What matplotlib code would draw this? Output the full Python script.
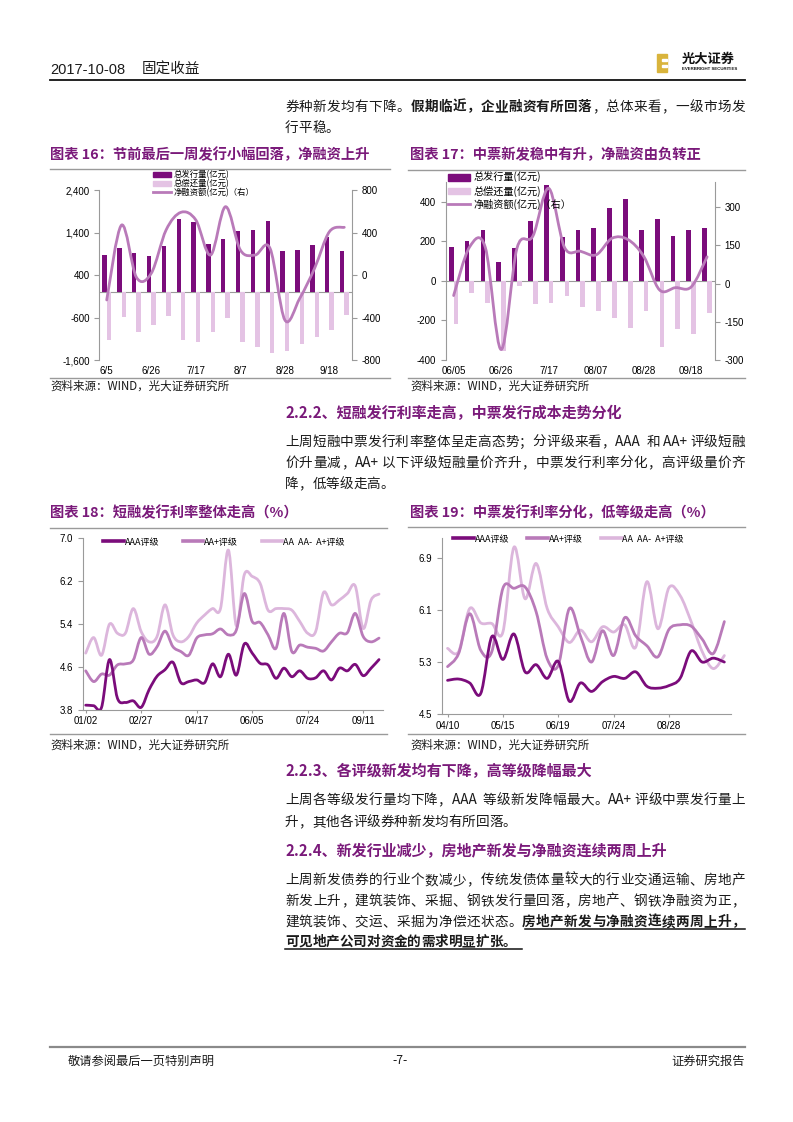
import numpy as np
import matplotlib.pyplot as plt
from matplotlib.path import Path
from matplotlib.patches import PathPatch, Patch, Rectangle
from matplotlib.lines import Line2D

W, H = 793, 1122
plt.rcParams['font.family'] = ['Noto Sans CJK SC', 'DejaVu Sans']
plt.rcParams['axes.unicode_minus'] = False

DARK = '#7b0c7b'
MID = '#b97ab9'
LIGHT = '#e4c3e4'
PALE = '#dcb6dc'
PURPLE = '#7a1a7a'
GRAY = '#9a9a9a'
TXT = '#1a1a1a'
NUM = ['Liberation Sans', 'DejaVu Sans']

# ---- chart 16: weekly issuance / repayment / net (亿元) ----
weeks_a = ['6/5', '6/12', '6/19', '6/26', '7/3', '7/10', '7/17', '7/24', '7/31',
           '8/7', '8/14', '8/21', '8/28', '9/4', '9/11', '9/18', '9/25']
issue_16 = [880, 1040, 920, 850, 1090, 1710, 1650, 1130, 1240, 1430, 1470, 1670, 970, 985, 1110, 1285, 970]
repay_16 = [-1140, -590, -950, -780, -570, -1140, -1180, -950, -605, -1180, -1300, -1425, -1395, -1230, -1065, -905, -530]
net_16 = [-235, 470, -22, 16, 424, 590, 518, 188, 643, 235, 188, 251, -424, -220, 63, 408, 449]

# ---- chart 17: MTN issuance / repayment / net ----
weeks_b = ['06/05', '06/12', '06/19', '06/26', '07/03', '07/10', '7/17', '07/24', '07/31',
           '08/07', '08/14', '08/21', '08/28', '09/04', '09/11', '09/18', '09/25']
issue_17 = [171, 203, 256, 94, 166, 303, 484, 221, 258, 264, 367, 412, 258, 310, 228, 258, 266]
repay_17 = [-218, -60, -114, -353, -27, -117, -110, -79, -131, -151, -189, -239, -151, -335, -244, -271, -161]
net_17 = [-47, 143, 142, -259, 139, 186, 374, 142, 127, 113, 178, 173, 107, -25, -16, -13, 105]

# ---- chart 18: short-term financing rates (%) ----
ticks_18 = {0: '01/02', 7: '02/27', 14: '04/17', 21: '06/05', 28: '07/24', 35: '09/11'}
aaa_18 = [3.89, 3.88, 3.85, 4.74, 4.02, 3.94, 3.97, 3.85, 4.18, 4.43, 4.55, 4.69, 4.31, 4.33,
          4.36, 4.31, 4.66, 4.42, 4.84, 4.45, 5.03, 4.86, 4.67, 4.64, 4.39, 4.58, 4.42, 4.53,
          4.39, 4.40, 4.53, 4.36, 4.58, 4.53, 4.65, 4.44, 4.58, 4.74]
aap_18 = [4.53, 4.33, 4.47, 4.45, 4.64, 4.66, 4.73, 5.15, 4.84, 4.98, 5.27, 4.98, 4.89, 4.82,
          5.14, 5.20, 5.22, 5.31, 5.20, 5.29, 5.97, 5.45, 5.43, 5.20, 4.95, 5.60, 4.89, 5.01,
          4.97, 4.95, 4.90, 5.07, 5.23, 5.24, 5.60, 5.17, 5.07, 5.14]
low_18 = [4.86, 5.15, 4.82, 5.40, 5.23, 5.23, 5.69, 5.26, 5.07, 5.17, 5.76, 5.20, 5.07, 5.17,
          5.42, 5.57, 5.69, 5.69, 6.78, 5.37, 6.32, 6.29, 6.16, 5.66, 5.69, 5.69, 5.66, 5.45,
          5.23, 5.26, 5.99, 5.76, 5.85, 5.97, 6.11, 5.32, 5.85, 5.96]

# ---- chart 19: MTN rates (%) ----
ticks_19 = {0: '04/10', 5: '05/15', 10: '06/19', 15: '07/24', 20: '08/28'}
aaa_19 = [5.02, 5.04, 4.98, 4.82, 5.69, 5.34, 5.73, 5.15, 5.26, 5.05, 5.31, 4.70, 4.98,
          4.85, 5.00, 5.08, 5.05, 5.15, 4.93, 4.90, 4.94, 5.05, 5.47, 5.30, 5.36, 5.30]
aap_19 = [5.23, 5.43, 6.04, 5.48, 5.46, 6.43, 6.43, 6.45, 6.07, 5.35, 5.25, 6.12, 5.70,
          5.30, 5.78, 5.40, 5.98, 5.70, 5.55, 5.38, 5.80, 5.87, 5.85, 5.65, 5.43, 5.92]
low_19 = [5.51, 5.46, 6.12, 5.90, 5.89, 5.76, 7.06, 6.27, 6.81, 6.12, 5.84, 5.60, 5.79,
          5.61, 5.84, 5.76, 5.87, 5.53, 6.53, 5.81, 6.44, 6.32, 5.92, 5.46, 5.20, 5.40]

legend_bars = ['总发行量(亿元)', '总偿还量(亿元)', '净融资额(亿元)（右）']
legend_rates = ['AAA评级', 'AA+评级', 'AA  AA-  A+评级']

fig = plt.figure(figsize=(W / 100, H / 100), dpi=100)


def px_axes(x0, y0, x1, y1):
    return fig.add_axes([x0 / W, 1 - y1 / H, (x1 - x0) / W, (y1 - y0) / H])


def hline(x0, x1, y, color=GRAY, lw=1.0):
    fig.add_artist(Line2D([x0 / W, x1 / W], [1 - y / H, 1 - y / H], color=color, lw=lw))


def smooth(ax, xs, ys, color, lw=2.0):
    # excel-style smoothed line drawn as bezier segments through the points
    xs = np.asarray(xs, float)
    ys = np.asarray(ys, float)
    verts = [(xs[0], ys[0])]
    codes = [Path.MOVETO]
    n = len(xs)
    for i in range(n - 1):
        p0 = i - 1 if i > 0 else i
        p3 = i + 2 if i + 2 < n else i + 1
        c1 = (xs[i] + (xs[i + 1] - xs[p0]) / 6, ys[i] + (ys[i + 1] - ys[p0]) / 6)
        c2 = (xs[i + 1] - (xs[p3] - xs[i]) / 6, ys[i + 1] - (ys[p3] - ys[i]) / 6)
        verts += [c1, c2, (xs[i + 1], ys[i + 1])]
        codes += [Path.CURVE4] * 3
    ax.add_patch(PathPatch(Path(verts, codes), fill=False, edgecolor=color, lw=lw,
                           capstyle='round', joinstyle='round'))


def em_w(ch):
    if ord(ch) > 0x2000:
        return 1.0
    if ch == ' ':
        return 0.25
    if ch in '.,':
        return 0.28
    if ch.isupper():
        return 0.68
    return 0.56


def text_line(x0, y, segs, size, x1=None, color=TXT):
    tokens = []
    for s, wgt in segs:
        buf = ''
        for ch in s:
            if ord(ch) < 0x2000:
                buf += ch
            else:
                if buf:
                    tokens.append((buf, wgt))
                    buf = ''
                tokens.append((ch, wgt))
        if buf:
            tokens.append((buf, wgt))
    em = size * 100 / 72
    widths = [sum(em_w(c) for c in t) * em for t, _ in tokens]
    gap = 0
    if x1 is not None and len(tokens) > 1:
        gap = (x1 - x0 - sum(widths)) / (len(tokens) - 1)
    x = x0
    for (t, wgt), w in zip(tokens, widths):
        fig.text(x / W, 1 - y / H, t, fontsize=size, fontweight=wgt, color=color,
                 va='center', ha='left')
        x += w + gap


def ftext(x, y, s, size, **kw):
    fig.text(x / W, 1 - y / H, s, fontsize=size, va='center', **kw)


def num_font(ax):
    for lab in ax.get_xticklabels() + ax.get_yticklabels():
        lab.set_fontfamily(NUM)


# ---------------- page header ----------------
ftext(50, 70, '2017-10-08', 10.5, color=TXT, family=NUM)
ftext(142, 70, '固定收益', 10.5, color=TXT)
hline(50, 745, 79.5, color='#111111', lw=1.3)
fig.add_artist(Rectangle((657 / W, 1 - 72 / H), 10 / W, 18 / H, color='#d9b43c',
                         transform=fig.transFigure))
for yy in (59, 65):
    fig.add_artist(Rectangle((662 / W, 1 - (yy + 2) / H), 5 / W, 2 / H, color='white',
                             transform=fig.transFigure))
ftext(682, 59, '光大证券', 9.5, color='#111111', fontweight='bold')
ftext(682, 69.5, 'EVERBRIGHT SECURITIES', 3.2, color='#111111', fontweight='bold', family=NUM)

text_line(285, 107, [('券种新发均有下降。', 'normal'), ('假期临近，企业融资有所回落', 'bold'),
                     ('，总体来看，一级市场发', 'normal')], 9.8, x1=745)
text_line(285, 128, [('行平稳。', 'normal')], 9.8)

# ---------------- chart titles / rules / sources ----------------
ftext(50, 155, '图表 16：节前最后一周发行小幅回落，净融资上升', 10.3, color=PURPLE, fontweight='bold')
ftext(410, 155, '图表 17：中票新发稳中有升，净融资由负转正', 10.3, color=PURPLE, fontweight='bold')
hline(50, 390, 169)
hline(408, 745, 169.5)
hline(50, 390, 377.5)
hline(408, 745, 377.5)
ftext(50, 386, '资料来源：WIND，光大证券研究所', 8.3, color=TXT)
ftext(410, 386, '资料来源：WIND，光大证券研究所', 8.3, color=TXT)

ftext(50, 513, '图表 18：短融发行利率整体走高（%）', 10.3, color=PURPLE, fontweight='bold')
ftext(410, 513, '图表 19：中票发行利率分化，低等级走高（%）', 10.3, color=PURPLE, fontweight='bold')
hline(50, 387, 527.5)
hline(408, 745, 527)
hline(50, 387, 733.5)
hline(408, 745, 733.5)
ftext(50, 745, '资料来源：WIND，光大证券研究所', 8.3, color=TXT)
ftext(410, 745, '资料来源：WIND，光大证券研究所', 8.3, color=TXT)

# ---------------- section text ----------------
ftext(285, 413, '2.2.2、短融发行利率走高，中票发行成本走势分化', 10.8, color=PURPLE, fontweight='bold')
text_line(285, 442, [('上周短融中票发行利率整体呈走高态势；分评级来看，AAA 和 AA+评级短融', 'normal')], 9.8, x1=745)
text_line(285, 463, [('价升量减，AA+以下评级短融量价齐升，中票发行利率分化，高评级量价齐', 'normal')], 9.8, x1=745)
text_line(285, 484, [('降，低等级走高。', 'normal')], 9.8)

ftext(285, 771, '2.2.3、各评级新发均有下降，高等级降幅最大', 10.8, color=PURPLE, fontweight='bold')
text_line(285, 800, [('上周各等级发行量均下降，AAA 等级新发降幅最大。AA+评级中票发行量上', 'normal')], 9.8, x1=745)
text_line(285, 822, [('升，其他各评级券种新发均有所回落。', 'normal')], 9.8)

ftext(285, 851, '2.2.4、新发行业减少，房地产新发与净融资连续两周上升', 10.8, color=PURPLE, fontweight='bold')
text_line(285, 880, [('上周新发债券的行业个数减少，传统发债体量较大的行业交通运输、房地产', 'normal')], 9.8, x1=745)
text_line(285, 901, [('新发上升，建筑装饰、采掘、钢铁发行量回落，房地产、钢铁净融资为正，', 'normal')], 9.8, x1=745)
text_line(285, 922, [('建筑装饰、交运、采掘为净偿还状态。', 'normal'),
                     ('房地产新发与净融资连续两周上升，', 'bold')], 9.8, x1=745)
text_line(285, 942, [('可见地产公司对资金的需求明显扩张。', 'bold')], 9.8)
hline(525, 745, 928.5, color='#111111', lw=1.1)
hline(285, 522, 949, color='#111111', lw=1.1)

# ---------------- footer ----------------
hline(50, 745, 1046.5, color='#8a8a8a', lw=1.6)
ftext(68, 1061, '敬请参阅最后一页特别声明', 8.8, color=TXT)
ftext(400, 1061, '-7-', 8.8, color=TXT, ha='center')
ftext(745, 1061, '证券研究报告', 8.8, color=TXT, ha='right')


# ---------------- bar + net charts ----------------
def bar_chart(box, issue, repay, net, labels, ylim, yt, ytl, ylim2, yt2, ytl2, leg_xy, leg_size, leg_sp):
    ax = px_axes(*box)
    x = np.arange(len(issue))
    ax.bar(x - 0.15, issue, 0.3, color=DARK, zorder=2)
    ax.bar(x + 0.15, repay, 0.3, color=LIGHT, zorder=2)
    ax.axhline(0, color=GRAY, lw=0.8, zorder=1)
    ax.set_xlim(-0.5, len(issue) - 0.5)
    ax.set_ylim(*ylim)
    ax.set_yticks(yt)
    ax.set_yticklabels(ytl)
    ax.set_xticks(x[::3])
    ax.set_xticklabels(labels[::3])
    for s in ('top', 'bottom', 'right'):
        ax.spines[s].set_visible(False)
    ax.spines['left'].set_color(GRAY)
    ax.tick_params(axis='y', direction='out', length=3.5, color=GRAY, width=0.8, pad=3.5, labelsize=7)
    ax.tick_params(axis='x', length=0, pad=4.5, labelsize=7)
    num_font(ax)
    ax2 = ax.twinx()
    ax2.set_ylim(*ylim2)
    ax2.set_yticks(yt2)
    ax2.set_yticklabels(ytl2)
    smooth(ax2, x, net, MID, lw=2.0)
    for s in ('top', 'bottom', 'left'):
        ax2.spines[s].set_visible(False)
    ax2.spines['right'].set_color(GRAY)
    ax2.tick_params(axis='y', direction='out', length=3.5, color=GRAY, width=0.8, pad=3.5, labelsize=7)
    num_font(ax2)
    handles = [Patch(color=DARK), Patch(color=LIGHT), Line2D([], [], color=MID, lw=2)]
    ax2.legend(handles, legend_bars, loc='center left',
               bbox_to_anchor=(leg_xy[0] / W, 1 - leg_xy[1] / H), bbox_transform=fig.transFigure,
               frameon=False, fontsize=leg_size, labelspacing=leg_sp, handlelength=2.2,
               handleheight=0.6, handletextpad=0.3, borderpad=0, borderaxespad=0)
    return ax


bar_chart((99.3, 190, 351.7, 360), issue_16, repay_16, net_16, weeks_a,
          (-1600, 2400), [-1600, -600, 400, 1400, 2400], ['-1,600', '-600', '400', '1,400', '2,400'],
          (-800, 800), [-800, -400, 0, 400, 800], ['-800', '-400', '0', '400', '800'],
          (153, 183.5), 6.0, -0.05)

bar_chart((445.7, 181.7, 715, 360), issue_17, repay_17, net_17, weeks_b,
          (-400, 500), [-400, -200, 0, 200, 400], ['-400', '-200', '0', '200', '400'],
          (-300, 400), [-300, -150, 0, 150, 300], ['-300', '-150', '0', '150', '300'],
          (448, 191), 7.3, 0.2)


# ---------------- rate charts ----------------
def rate_chart(box, series, ticks, ylim, yt, ytl, xlim, leg_xy, colsp):
    ax = px_axes(*box)
    x = np.arange(len(series[0]))
    cols = [DARK, MID, PALE]
    for ys, c in list(zip(series, cols))[::-1]:
        smooth(ax, x, ys, c, lw=2.0)
    ax.set_xlim(*xlim)
    ax.set_ylim(*ylim)
    ax.set_yticks(yt)
    ax.set_yticklabels(ytl)
    ax.set_xticks(list(ticks.keys()))
    ax.set_xticklabels(list(ticks.values()))
    for s in ('top', 'right'):
        ax.spines[s].set_visible(False)
    for s in ('left', 'bottom'):
        ax.spines[s].set_color(GRAY)
        ax.spines[s].set_linewidth(0.8)
    ax.tick_params(axis='y', direction='out', length=3.5, color=GRAY, width=0.8, pad=3.5, labelsize=7)
    ax.tick_params(axis='x', direction='out', length=2.5, color=GRAY, width=0.8, pad=2, labelsize=7)
    num_font(ax)
    handles = [Line2D([], [], color=c, lw=2.6) for c in cols]
    ax.legend(handles, legend_rates, loc='center left', ncol=3,
              bbox_to_anchor=(leg_xy[0] / W, 1 - leg_xy[1] / H), bbox_transform=fig.transFigure,
              frameon=False, fontsize=6.5, handlelength=2.3, handletextpad=0.1,
              columnspacing=colsp, borderpad=0, borderaxespad=0)
    return ax


rate_chart((82.7, 538.3, 383, 710), [aaa_18, aap_18, low_18], ticks_18,
           (3.8, 7.0), [3.8, 4.6, 5.4, 6.2, 7.0], ['3.8', '4.6', '5.4', '6.2', '7.0'],
           (-0.38, 37.5), (103, 542), 2.6)

rate_chart((442, 538, 731, 714.3), [aaa_19, aap_19, low_19], ticks_19,
           (4.5, 7.2), [4.5, 5.3, 6.1, 6.9], ['4.5', '5.3', '6.1', '6.9'],
           (-0.5, 25.6), (453, 539), 2.0)

fig.savefig('out.png', dpi=100)
